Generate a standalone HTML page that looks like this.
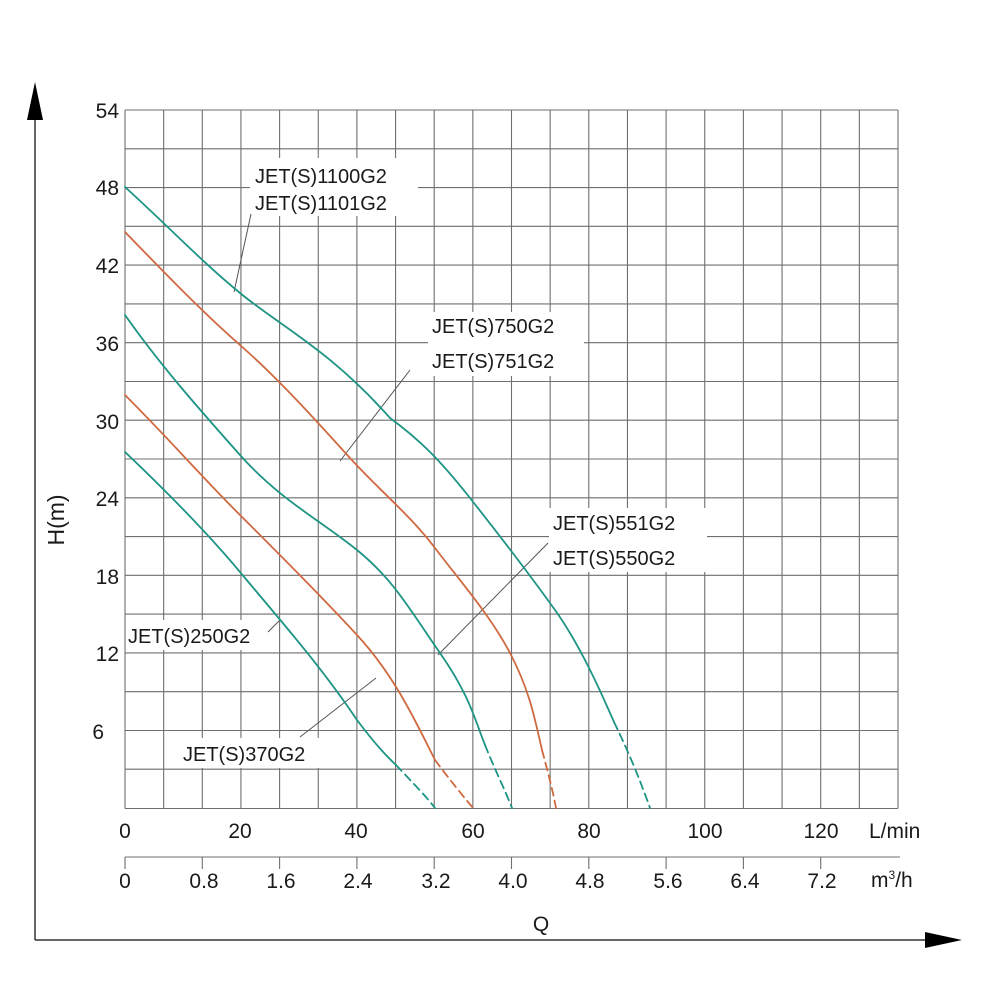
<!DOCTYPE html>
<html><head><meta charset="utf-8"><style>
html,body{margin:0;padding:0;background:#fff;}
svg{display:block;font-family:"Liberation Sans",sans-serif;}
</style></head><body>
<svg width="1000" height="1000" viewBox="0 0 1000 1000" xmlns="http://www.w3.org/2000/svg">
<rect width="1000" height="1000" fill="#fff"/>
<g stroke="#6f6f6f" stroke-width="1.1">
<path d="M125 110V808.5M163.65 110V808.5M202.3 110V808.5M240.95 110V808.5M279.6 110V808.5M318.25 110V808.5M356.9 110V808.5M395.55 110V808.5M434.2 110V808.5M472.85 110V808.5M511.5 110V808.5M550.15 110V808.5M588.8 110V808.5M627.45 110V808.5M666.1 110V808.5M704.75 110V808.5M743.4 110V808.5M782.05 110V808.5M820.7 110V808.5M859.35 110V808.5M898 110V808.5"/>
<path d="M125 110H898M125 148.8H898M125 187.6H898M125 226.3H898M125 265.1H898M125 303.9H898M125 342.7H898M125 381.5H898M125 420.2H898M125 459H898M125 497.8H898M125 536.6H898M125 575.3H898M125 614.1H898M125 652.9H898M125 691.7H898M125 730.5H898M125 769.2H898M125 808.5H898"/>
</g>
<g stroke="#6f6f6f" stroke-width="1.1">
<path d="M125 857H900M125 857v12M202.3 857v12M279.6 857v12M356.9 857v12M434.2 857v12M511.5 857v12M588.8 857v12M666.1 857v12M743.4 857v12M820.7 857v12"/>
</g>
<path d="M35 940V110M35 940H930" stroke="#333" stroke-width="1.5" fill="none"/>
<polygon points="35,82 27,120 43,120" fill="#000"/>
<polygon points="962,940 925,932 925,948" fill="#000"/>
<g fill="#fff">
<rect x="250" y="158" width="168" height="58"/>
<rect x="428" y="312" width="156" height="64"/>
<rect x="549" y="508" width="158" height="64"/>
<rect x="126" y="620" width="152" height="30"/>
<rect x="180" y="738" width="154" height="30"/>
</g>
<g stroke="#555" stroke-width="1" fill="none">
<path d="M234 292L251 214"/>
<path d="M340 461L410 370"/>
<path d="M438 655L548 543"/>
<path d="M300 737L376 678"/>
<path d="M268 632L280 620"/>
</g>
<g fill="none" stroke-width="1.8" stroke-linecap="round">
<path stroke="#1d9484" d="M125 187C170 228 200 260 240 293S330 350 390 418C420 440 440 460 470 498S530 575 555 610S600 690 614 722"/>
<path stroke="#1d9484" stroke-dasharray="8,5" d="M614 722C630 755 640 780 650 808"/>
<path stroke="#cf6a40" d="M125 232C160 268 200 310 240 345S320 425 350 458S410 515 435 548S490 615 510 653S535 720 542 750"/>
<path stroke="#cf6a40" stroke-dasharray="8,5" d="M542 750C548 772 553 792 556 808"/>
<path stroke="#1d9484" d="M125 315C160 365 200 410 240 455S320 520 357 550S410 610 440 653S475 720 485 745"/>
<path stroke="#1d9484" stroke-dasharray="8,5" d="M485 745C495 770 505 790 512 808"/>
<path stroke="#cf6a40" d="M125 395C170 440 200 475 240 515S320 595 357 635S415 720 435 760"/>
<path stroke="#cf6a40" stroke-dasharray="8,5" d="M435 760C450 780 462 795 473 808"/>
<path stroke="#1d9484" d="M125 452C165 490 205 530 240 572C280 620 320 665 357 720C372 740 385 755 396 765"/>
<path stroke="#1d9484" stroke-dasharray="8,5" d="M396 765C410 780 425 795 435 808"/>
</g>
<g font-size="20" fill="#1a1a1a">
<text x="255" y="183">JET(S)1100G2</text>
<text x="255" y="210">JET(S)1101G2</text>
<text x="432" y="333">JET(S)750G2</text>
<text x="432" y="368">JET(S)751G2</text>
<text x="553" y="530">JET(S)551G2</text>
<text x="553" y="565">JET(S)550G2</text>
<text x="128" y="643">JET(S)250G2</text>
<text x="183" y="761">JET(S)370G2</text>
</g>
<g font-size="21" fill="#1a1a1a" text-anchor="end">
<text x="119" y="118">54</text>
<text x="119" y="195">48</text>
<text x="119" y="273">42</text>
<text x="119" y="351">36</text>
<text x="119" y="429">30</text>
<text x="119" y="506">24</text>
<text x="119" y="584">18</text>
<text x="119" y="661">12</text>
<text x="104" y="739">6</text>
</g>
<g font-size="21" fill="#1a1a1a" text-anchor="middle">
<text x="125" y="838">0</text>
<text x="240" y="838">20</text>
<text x="356" y="838">40</text>
<text x="473" y="838">60</text>
<text x="589" y="838">80</text>
<text x="705" y="838">100</text>
<text x="821" y="838">120</text>
<text x="125" y="888">0</text>
<text x="204" y="888">0.8</text>
<text x="281" y="888">1.6</text>
<text x="358" y="888">2.4</text>
<text x="436" y="888">3.2</text>
<text x="513" y="888">4.0</text>
<text x="590" y="888">4.8</text>
<text x="668" y="888">5.6</text>
<text x="745" y="888">6.4</text>
<text x="822" y="888">7.2</text>
<text x="541" y="931">Q</text>
</g>
<text x="869" y="838" font-size="21" fill="#1a1a1a">L/min</text>
<text x="871" y="887" font-size="21" fill="#1a1a1a">m<tspan font-size="12" dy="-8">3</tspan><tspan dy="8">/h</tspan></text>
<text transform="translate(64,520) rotate(-90)" font-size="23" fill="#1a1a1a" text-anchor="middle">H(m)</text>
</svg>
</body></html>
